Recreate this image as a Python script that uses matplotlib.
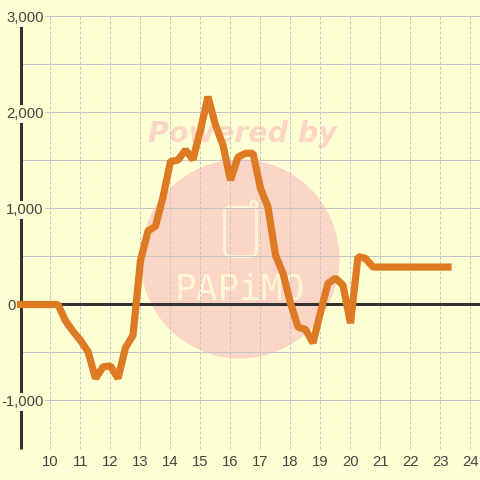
import matplotlib
matplotlib.use('Agg')
import matplotlib.pyplot as plt
from matplotlib.patches import Circle, FancyBboxPatch
from matplotlib.lines import Line2D

hours = [9 + i * 0.25 for i in range(58)]
values = [0, 0, 0, 0, 0, 0, -170, -280, -375, -490, -770, -650, -640, -770, -450, -320,
          460, 765, 815, 1120, 1490, 1505, 1610, 1510, 1820, 2165, 1870, 1660, 1295, 1535, 1575, 1575,
          1210, 1015, 515, 325, 15, -235, -260, -400, -80, 220, 275, 200, -195, 500, 480, 390,
          390, 390, 390, 390, 390, 390, 390, 390, 390, 390]
xticks = list(range(10, 25))
yticks = [-1000, 0, 1000, 2000, 3000]
ylabels = ['-1,000', '0', '1,000', '2,000', '3,000']

bg = '#ffffd4'
wm = '#fbd5c5'
knock = '#fef6d2'
px = 1 / 480

plt.rcParams['font.family'] = 'Liberation Sans'
fig = plt.figure(figsize=(4.8, 4.8), dpi=100, facecolor=bg)
ax = fig.add_axes([20.5 * px, 1 - 448.5 * px, 459.5 * px, 432 * px])
ax.set_facecolor(bg)
ax.set_xlim(9, 24.317)
ax.set_ylim(-1500, 3000)

# grid
ax.set_xticks(xticks)
ax.set_xticklabels([str(x) for x in xticks])
ax.set_yticks(yticks)
ax.set_yticklabels([])
ax.set_yticks([-1500, -500, 500, 1500, 2500], minor=True)
ax.grid(axis='x', color='#c4c4c8', lw=0.72, ls=(0, (3, 2)))
ax.grid(axis='y', which='both', color='#c4c4c8', lw=0.72)
ax.tick_params(axis='both', which='both', length=0, labelsize=10.7, labelcolor='#444444')
ax.tick_params(axis='x', pad=5)
for s in ['top', 'right', 'bottom']:
    ax.spines[s].set_visible(False)
ax.spines['left'].set_linewidth(2.2)
ax.spines['left'].set_color('#333333')
ax.spines['left'].set_capstyle('butt')
ax.axhline(0, color='#333333', lw=2.2, zorder=2)

# y labels sit on top of the axis line and break it
trans = ax.get_yaxis_transform()
for v, lab in zip(yticks, ylabels):
    if v == 0:
        ax.text(-4.5 * px * 480 / 459.5, v, lab, transform=trans, ha='right', va='center_baseline',
                fontsize=10.7, color='#444444', zorder=4, clip_on=False)
    else:
        ax.text(23 * px * 480 / 459.5, v, lab, transform=trans, ha='right', va='center_baseline',
                fontsize=10.7, color='#444444', zorder=4, clip_on=False,
                bbox=dict(fc=bg, ec='none', pad=1.2))

# watermark
ft = fig.transFigure
ax.add_patch(Circle((240 * px, 1 - 259 * px), 99.5 * px, fc=wm, lw=0, transform=ft, zorder=0.5, clip_on=False))
ax.text(242 * px, 1 - 134 * px, 'Powered by', color=wm, fontsize=20.5, fontweight='bold',
        style='italic', family='DejaVu Sans', ha='center', va='center', transform=ft, zorder=0.6)
ax.text(240 * px, 1 - 289 * px, 'PAPiMO', color=knock, fontsize=26, family='DejaVu Sans Mono',
        ha='center', va='center', transform=ft, zorder=0.6)
ax.add_patch(FancyBboxPatch((224.5 * px, 1 - 256.5 * px), 32 * px, 49.5 * px,
                            boxstyle='round,pad=0,rounding_size=0.012',
                            fc='none', ec=knock, lw=2, transform=ft, zorder=0.6, clip_on=False))
ax.add_line(Line2D([251 * px, 251 * px, 253.7 * px, 256.5 * px, 256.5 * px],
                   [1 - 207 * px, 1 - 202.5 * px, 1 - 200.5 * px, 1 - 202.5 * px, 1 - 210 * px],
                   color=knock, lw=2, transform=ft, zorder=0.6, clip_on=False))

ax.plot(hours, values, color='#df7a24', lw=5.2, solid_capstyle='projecting',
        solid_joinstyle='bevel', zorder=3, clip_on=False)

fig.savefig('out.png', dpi=100, facecolor=fig.get_facecolor())
